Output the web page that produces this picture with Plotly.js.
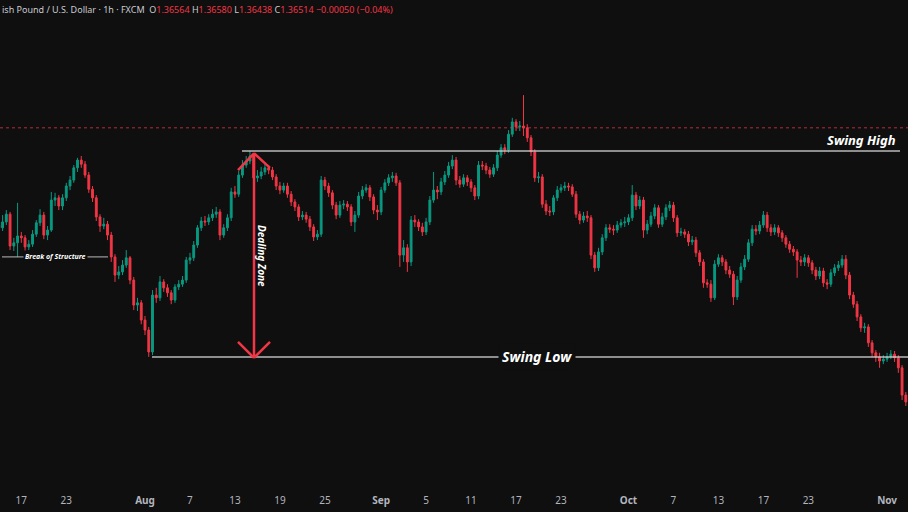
<!DOCTYPE html>
<html>
<head>
<meta charset="utf-8">
<script src="https://cdn.plot.ly/plotly-3.0.1.min.js"></script>
<style>html,body{margin:0;padding:0;background:#0f0f0f;}#chart{width:908px;height:512px;}</style>
</head>
<body>
<div id="chart"></div>
<script>
// Trading days (GBP/USD, 8-hour sessions drawn from the hourly chart)
const julDays = [15,16,17,18,21,22,23,24,25,28,29,30,31];
const augDays = [1,4,5,6,7,8,11,12,13,14,15,18,19,20,21,22,25,26,27,28,29];
const sepDays = [1,2,3,4,5,8,9,10,11,12,15,16,17,18,19,22,23,24,25,26,29,30];
const octDays = [1,2,3,6,7,8,9,10,13,14,15,16,17,20,21,22,23,24,27,28,29,30,31];
const novDays = [3,4];
const sessions = ['00:00','08:00','16:00'];

const firstOpen = 1.3432;
const closes = [
 1.3426,1.3439,1.3456,1.3386,1.3393,1.3408,1.3404,1.3384,1.3390,1.3412,
 1.3437,1.3454,1.3410,1.3421,1.3487,1.3492,1.3474,1.3492,1.3518,1.3531,
 1.3558,1.3575,1.3566,1.3542,1.3511,1.3492,1.3450,1.3430,1.3434,1.3410,
 1.3362,1.3322,1.3329,1.3344,1.3360,1.3311,1.3256,1.3261,1.3223,1.3201,
 1.3153,1.3278,1.3272,1.3307,1.3294,1.3283,1.3267,1.3296,1.3302,1.3311,
 1.3355,1.3360,1.3388,1.3426,1.3441,1.3439,1.3448,1.3456,1.3461,1.3410,
 1.3426,1.3448,1.3505,1.3500,1.3542,1.3564,1.3573,1.3584,1.3536,1.3540,
 1.3549,1.3558,1.3553,1.3538,1.3518,1.3509,1.3518,1.3500,1.3483,1.3472,
 1.3450,1.3454,1.3445,1.3428,1.3406,1.3412,1.3531,1.3518,1.3503,1.3476,
 1.3454,1.3476,1.3478,1.3472,1.3439,1.3454,1.3496,1.3509,1.3514,1.3494,
 1.3465,1.3461,1.3509,1.3525,1.3536,1.3540,1.3525,1.3366,1.3382,1.3351,
 1.3443,1.3439,1.3428,1.3417,1.3439,1.3487,1.3509,1.3505,1.3527,1.3542,
 1.3562,1.3575,1.3531,1.3522,1.3536,1.3527,1.3514,1.3496,1.3564,1.3562,
 1.3553,1.3544,1.3558,1.3586,1.3602,1.3597,1.3632,1.3659,1.3648,1.3650,
 1.3646,1.3624,1.3593,1.3536,1.3538,1.3478,1.3463,1.3461,1.3492,1.3509,
 1.3514,1.3518,1.3516,1.3500,1.3456,1.3443,1.3452,1.3448,1.3366,1.3338,
 1.3373,1.3404,1.3426,1.3423,1.3421,1.3432,1.3437,1.3439,1.3448,1.3498,
 1.3474,1.3487,1.3421,1.3434,1.3452,1.3470,1.3434,1.3450,1.3470,1.3476,
 1.3448,1.3415,1.3417,1.3412,1.3395,1.3399,1.3371,1.3351,1.3305,1.3302,
 1.3272,1.3346,1.3360,1.3351,1.3333,1.3324,1.3274,1.3311,1.3340,1.3357,
 1.3393,1.3423,1.3419,1.3432,1.3454,1.3426,1.3417,1.3426,1.3415,1.3404,
 1.3390,1.3379,1.3373,1.3355,1.3351,1.3360,1.3349,1.3333,1.3320,1.3331,
 1.3305,1.3302,1.3327,1.3338,1.3344,1.3357,1.3322,1.3278,1.3258,1.3230,
 1.3206,1.3208,1.3173,1.3151,1.3142,1.3133,1.3137,1.3142,1.3148,1.3140,
 1.3118,1.3058,1.3043];
const highs = [
 1.3443,1.3454,1.3465,1.3461,1.3404,1.3481,1.3417,1.3410,1.3399,1.3421,
 1.3443,1.3467,1.3461,1.3430,1.3505,1.3503,1.3498,1.3500,1.3525,1.3540,
 1.3564,1.3580,1.3584,1.3573,1.3549,1.3518,1.3498,1.3456,1.3448,1.3441,
 1.3417,1.3368,1.3342,1.3355,1.3377,1.3364,1.3318,1.3272,1.3267,1.3232,
 1.3208,1.3289,1.3294,1.3320,1.3313,1.3302,1.3289,1.3302,1.3311,1.3320,
 1.3362,1.3371,1.3397,1.3432,1.3450,1.3452,1.3456,1.3467,1.3472,1.3467,
 1.3434,1.3456,1.3514,1.3518,1.3551,1.3575,1.3584,1.3595,1.3591,1.3553,
 1.3560,1.3566,1.3564,1.3560,1.3544,1.3527,1.3525,1.3525,1.3507,1.3489,
 1.3478,1.3463,1.3461,1.3452,1.3434,1.3421,1.3540,1.3538,1.3525,1.3509,
 1.3483,1.3485,1.3487,1.3485,1.3478,1.3463,1.3505,1.3518,1.3522,1.3520,
 1.3500,1.3476,1.3516,1.3533,1.3544,1.3549,1.3547,1.3531,1.3399,1.3390,
 1.3452,1.3454,1.3445,1.3437,1.3448,1.3496,1.3549,1.3518,1.3536,1.3551,
 1.3571,1.3586,1.3582,1.3540,1.3544,1.3542,1.3533,1.3520,1.3573,1.3573,
 1.3569,1.3560,1.3566,1.3595,1.3610,1.3610,1.3641,1.3668,1.3665,1.3661,
 1.3718,1.3654,1.3630,1.3599,1.3549,1.3544,1.3487,1.3474,1.3498,1.3518,
 1.3522,1.3527,1.3525,1.3522,1.3507,1.3463,1.3461,1.3463,1.3454,1.3373,
 1.3382,1.3412,1.3434,1.3434,1.3432,1.3441,1.3445,1.3450,1.3456,1.3520,
 1.3505,1.3496,1.3494,1.3443,1.3461,1.3478,1.3476,1.3459,1.3478,1.3485,
 1.3483,1.3454,1.3426,1.3423,1.3419,1.3408,1.3406,1.3377,1.3357,1.3313,
 1.3311,1.3355,1.3368,1.3366,1.3357,1.3342,1.3331,1.3320,1.3349,1.3366,
 1.3401,1.3432,1.3432,1.3441,1.3463,1.3461,1.3434,1.3434,1.3432,1.3421,
 1.3410,1.3397,1.3386,1.3379,1.3364,1.3368,1.3366,1.3355,1.3340,1.3340,
 1.3338,1.3313,1.3335,1.3346,1.3353,1.3366,1.3366,1.3329,1.3285,1.3265,
 1.3236,1.3217,1.3214,1.3179,1.3157,1.3151,1.3146,1.3151,1.3157,1.3155,
 1.3146,1.3124,1.3065];
const lows = [
 1.3417,1.3419,1.3432,1.3377,1.3375,1.3362,1.3393,1.3375,1.3377,1.3384,
 1.3406,1.3430,1.3401,1.3399,1.3417,1.3474,1.3465,1.3465,1.3485,1.3509,
 1.3525,1.3549,1.3558,1.3536,1.3503,1.3483,1.3441,1.3417,1.3423,1.3399,
 1.3351,1.3307,1.3313,1.3322,1.3338,1.3302,1.3245,1.3243,1.3214,1.3190,
 1.3142,1.3146,1.3261,1.3265,1.3285,1.3274,1.3258,1.3261,1.3289,1.3296,
 1.3305,1.3346,1.3353,1.3382,1.3419,1.3430,1.3432,1.3441,1.3448,1.3399,
 1.3404,1.3419,1.3441,1.3492,1.3494,1.3536,1.3558,1.3566,1.3522,1.3527,
 1.3533,1.3542,1.3544,1.3531,1.3509,1.3500,1.3503,1.3492,1.3474,1.3463,
 1.3441,1.3443,1.3437,1.3419,1.3397,1.3399,1.3406,1.3509,1.3494,1.3467,
 1.3445,1.3448,1.3467,1.3463,1.3430,1.3417,1.3448,1.3489,1.3503,1.3485,
 1.3456,1.3443,1.3454,1.3503,1.3518,1.3527,1.3518,1.3340,1.3351,1.3329,
 1.3342,1.3428,1.3419,1.3408,1.3410,1.3432,1.3481,1.3489,1.3498,1.3520,
 1.3536,1.3555,1.3520,1.3514,1.3516,1.3518,1.3505,1.3487,1.3489,1.3553,
 1.3544,1.3536,1.3538,1.3551,1.3580,1.3588,1.3591,1.3626,1.3639,1.3639,
 1.3628,1.3615,1.3584,1.3527,1.3525,1.3470,1.3454,1.3452,1.3454,1.3485,
 1.3503,1.3507,1.3507,1.3494,1.3448,1.3434,1.3437,1.3439,1.3357,1.3329,
 1.3331,1.3366,1.3397,1.3415,1.3410,1.3415,1.3426,1.3428,1.3432,1.3441,
 1.3465,1.3467,1.3404,1.3412,1.3428,1.3445,1.3426,1.3428,1.3443,1.3463,
 1.3439,1.3406,1.3408,1.3404,1.3386,1.3388,1.3362,1.3342,1.3294,1.3294,
 1.3263,1.3267,1.3340,1.3342,1.3324,1.3316,1.3256,1.3267,1.3305,1.3333,
 1.3351,1.3386,1.3410,1.3412,1.3426,1.3417,1.3408,1.3410,1.3406,1.3395,
 1.3382,1.3371,1.3364,1.3316,1.3342,1.3342,1.3340,1.3324,1.3311,1.3313,
 1.3296,1.3291,1.3296,1.3320,1.3331,1.3338,1.3313,1.3269,1.3250,1.3221,
 1.3197,1.3195,1.3164,1.3142,1.3131,1.3118,1.3126,1.3131,1.3137,1.3131,
 1.3107,1.3047,1.3034];

// Key levels
const swingHigh = 1.3595;
const swingLow = 1.3142;
const breakOfStructure = 1.3362;
const lastPrice = 1.3646;

// Time-axis labels
const tickDates = ['2025-07-17','2025-07-23','2025-08-01','2025-08-07','2025-08-13','2025-08-19','2025-08-25',
  '2025-09-01','2025-09-05','2025-09-11','2025-09-17','2025-09-23','2025-10-01','2025-10-07','2025-10-13',
  '2025-10-17','2025-10-23','2025-11-03'];
const tickLabels = ['17','23','<b>Aug</b>','7','13','19','25','<b>Sep</b>','5','11','17','23','<b>Oct</b>','7','13','17','23','<b>Nov</b>'];

// Build timestamps
const pad = n => String(n).padStart(2,'0');
const times = [];
[[7,julDays],[8,augDays],[9,sepDays],[10,octDays],[11,novDays]].forEach(([m,days]) => {
  days.forEach(d => sessions.forEach(s => times.push(`2025-${pad(m)}-${pad(d)} ${s}`)));
});
const opens = closes.map((c,i) => i === 0 ? firstOpen : closes[i-1]);

const UP = '#089981', DOWN = '#f23645', BG = '#0f0f0f';
const trace = {
  type: 'candlestick', x: times, open: opens, high: highs, low: lows, close: closes,
  increasing: {line: {color: UP, width: 1}, fillcolor: UP},
  decreasing: {line: {color: DOWN, width: 1}, fillcolor: DOWN},
  whiskerwidth: 0, hoverinfo: 'skip'
};

const W = 908;
const px = v => v / W;
const lineGrey = 'rgba(205,205,205,0.9)';
const shapes = [
  {type:'line', xref:'paper', yref:'y', x0:0, x1:1, y0:lastPrice, y1:lastPrice, line:{color:'rgba(242,54,69,0.75)', width:1, dash:'dot'}},
  {type:'line', xref:'paper', yref:'y', x0:px(242), x1:px(900), y0:swingHigh, y1:swingHigh, line:{color:lineGrey, width:1.5}},
  {type:'line', xref:'paper', yref:'y', x0:px(152), x1:1, y0:swingLow, y1:swingLow, line:{color:lineGrey, width:1.5}},
  {type:'line', xref:'paper', yref:'y', x0:px(2), x1:px(108), y0:breakOfStructure, y1:breakOfStructure, line:{color:lineGrey, width:1}},
  // Dealing zone arrow
  {type:'line', xref:'paper', yref:'y', x0:px(254), x1:px(254), y0:1.3588, y1:1.3140, line:{color:DOWN, width:2.5}},
  {type:'line', xref:'paper', yref:'y', x0:px(238), x1:px(254), y0:1.3553, y1:1.3590, line:{color:DOWN, width:2.5}},
  {type:'line', xref:'paper', yref:'y', x0:px(254), x1:px(270), y0:1.3590, y1:1.3558, line:{color:DOWN, width:2.5}},
  {type:'line', xref:'paper', yref:'y', x0:px(238), x1:px(254), y0:1.3175, y1:1.3140, line:{color:DOWN, width:2.5}},
  {type:'line', xref:'paper', yref:'y', x0:px(254), x1:px(270), y0:1.3140, y1:1.3175, line:{color:DOWN, width:2.5}}
];

const F = 'Noto Sans, DejaVu Sans, sans-serif';
const red = s => `<span style="color:#f23645">${s}</span>`;
const annotations = [
  {xref:'paper', yref:'paper', x:0, y:1, xanchor:'left', yanchor:'top', yshift:-1, showarrow:false,
   font:{family:F, size:9, color:'#c9cbd1'},
   text:`ish Pound / U.S. Dollar · 1h · FXCM  O${red('1.36564')} H${red('1.36580')} L${red('1.36438')} C${red('1.36514')} ${red('−0.00050 (−0.04%)')}`},
  {xref:'paper', yref:'y', x:px(861), y:swingHigh, yshift:11, xanchor:'center', yanchor:'middle', showarrow:false,
   font:{family:F, size:13, color:'#ffffff'}, text:'<b><i>Swing High</i></b>'},
  {xref:'paper', yref:'y', x:px(537), y:swingLow, xanchor:'center', yanchor:'middle', showarrow:false, bgcolor:BG, borderpad:3,
   font:{family:F, size:14, color:'#ffffff'}, text:'<b><i>Swing Low</i></b>'},
  {xref:'paper', yref:'y', x:px(55), y:breakOfStructure, xanchor:'center', yanchor:'middle', showarrow:false, bgcolor:BG, borderpad:1,
   font:{family:F, size:7, color:'#ffffff'}, text:'<b><i>Break of Structure</i></b>'},
  {xref:'paper', yref:'y', x:px(262), y:1.3364, xanchor:'center', yanchor:'middle', showarrow:false, textangle:90,
   font:{family:F, size:10, color:'#ffffff'}, text:'<b><i>Dealing Zone</i></b>'}
];

const layout = {
  width: 908, height: 512,
  margin: {l:0, r:0, t:0, b:28},
  paper_bgcolor: BG, plot_bgcolor: BG,
  showlegend: false,
  xaxis: {
    type:'date', range:['2025-07-15 02:30','2025-11-04 20:40'],
    rangebreaks:[{bounds:['sat','mon']}],
    rangeslider:{visible:false},
    showgrid:false, zeroline:false, showline:false, ticks:'',
    tickmode:'array', tickvals:tickDates, ticktext:tickLabels,
    tickfont:{family:F, size:10, color:'#b2b5be'}, ticklabelstandoff:9
  },
  yaxis: {range:[1.28624, 1.39272], showgrid:false, zeroline:false, showticklabels:false, showline:false},
  shapes, annotations
};

Plotly.newPlot('chart', [trace], layout, {displayModeBar:false, staticPlot:true});
</script>
</body>
</html>
